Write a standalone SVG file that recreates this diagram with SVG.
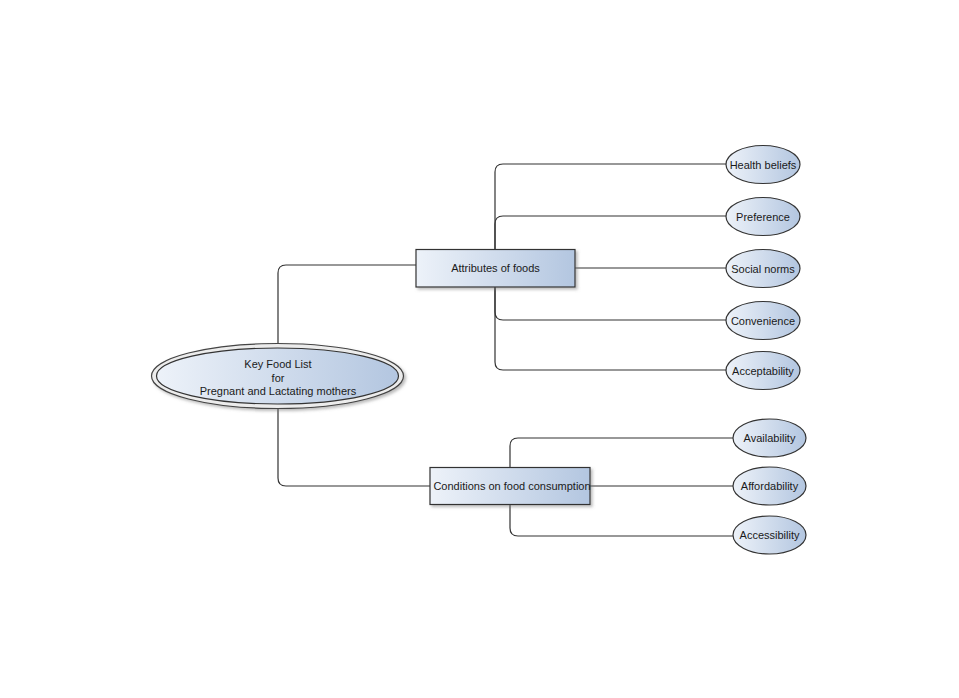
<svg xmlns="http://www.w3.org/2000/svg" width="959" height="698" viewBox="0 0 959 698">
<defs>
<linearGradient id="g" x1="0" y1="0" x2="1" y2="0">
<stop offset="0" stop-color="#edf2f9"/>
<stop offset="1" stop-color="#b3c6e0"/>
</linearGradient>
<filter id="sh" x="-10%" y="-20%" width="130%" height="150%">
<feDropShadow dx="2" dy="2" stdDeviation="1.5" flood-color="#777" flood-opacity="0.5"/>
</filter>
</defs>
<style>
.t{font-family:"Liberation Sans",Arial,sans-serif;font-size:11px;fill:#1a1a1a;text-anchor:middle}
.c{fill:none;stroke:#333;stroke-width:1.2}
.n{fill:url(#g);stroke:#333;stroke-width:1.2}
</style>
<rect width="959" height="698" fill="#fff"/>
<g id="connectors">
<path class="c" d="M278,345 V273 Q278,265 286,265 H416"/>
<path class="c" d="M278,408 V478 Q278,486 286,486 H430"/>
<path class="c" d="M495,249 V172 Q495,164 503,164 H726"/>
<path class="c" d="M495,249 V224 Q495,216 503,216 H726"/>
<path class="c" d="M575,268 H726"/>
<path class="c" d="M495,287 V312 Q495,320 503,320 H726"/>
<path class="c" d="M495,287 V362 Q495,370 503,370 H726"/>
<path class="c" d="M510,467 V446 Q510,438 518,438 H733"/>
<path class="c" d="M590,486 H733"/>
<path class="c" d="M510,505 V528 Q510,536 518,536 H733"/>
</g>
<g id="root">
<ellipse cx="277.5" cy="376" rx="126" ry="32.5" fill="#ececec" stroke="#444" stroke-width="1.2" filter="url(#sh)"/>
<ellipse cx="277.5" cy="376" rx="121" ry="28" class="n"/>
<text class="t" x="278" y="368">Key Food List</text>
<text class="t" x="278" y="381.5">for</text>
<text class="t" x="278" y="395">Pregnant and Lactating mothers</text>
</g>
<g id="attributes">
<rect x="416" y="249.5" width="159" height="37.5" class="n" filter="url(#sh)"/>
<text class="t" x="495.5" y="272">Attributes of foods</text>
</g>
<g id="conditions">
<rect x="430" y="467.5" width="160" height="37" class="n" filter="url(#sh)"/>
<text class="t" x="512" y="490">Conditions on food consumption</text>
</g>
<g id="health-beliefs">
<ellipse cx="763" cy="164.5" rx="37" ry="19" class="n"/>
<text class="t" x="763" y="168.5">Health beliefs</text>
</g>
<g id="preference">
<ellipse cx="763" cy="216.5" rx="37" ry="19" class="n"/>
<text class="t" x="763" y="220.5">Preference</text>
</g>
<g id="social-norms">
<ellipse cx="763" cy="268.5" rx="37" ry="19" class="n"/>
<text class="t" x="763" y="272.5">Social norms</text>
</g>
<g id="convenience">
<ellipse cx="763" cy="320.5" rx="37" ry="19" class="n"/>
<text class="t" x="763" y="324.5">Convenience</text>
</g>
<g id="acceptability">
<ellipse cx="763" cy="370.5" rx="37" ry="19" class="n"/>
<text class="t" x="763" y="374.5">Acceptability</text>
</g>
<g id="availability">
<ellipse cx="769.5" cy="438" rx="36.5" ry="19" class="n"/>
<text class="t" x="769.5" y="442">Availability</text>
</g>
<g id="affordability">
<ellipse cx="769.5" cy="486" rx="36.5" ry="19" class="n"/>
<text class="t" x="769.5" y="490">Affordability</text>
</g>
<g id="accessibility">
<ellipse cx="769.5" cy="535" rx="36.5" ry="19" class="n"/>
<text class="t" x="769.5" y="539">Accessibility</text>
</g>
</svg>
